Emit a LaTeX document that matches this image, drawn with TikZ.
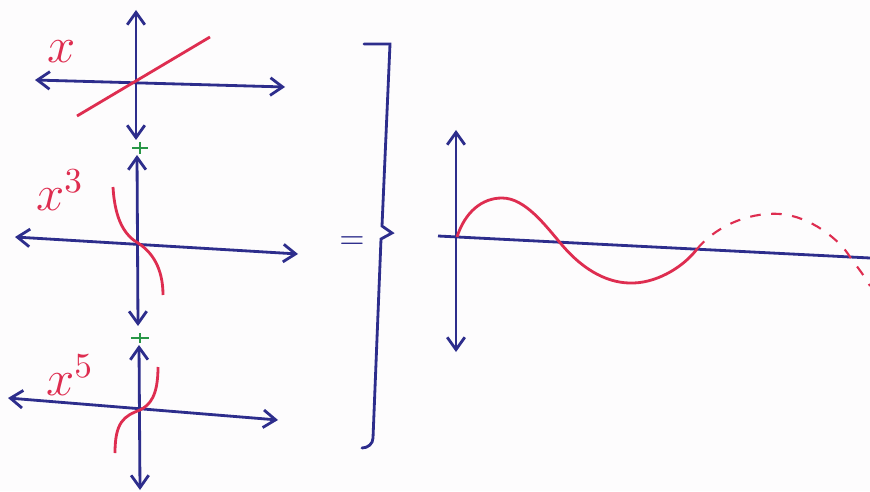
\documentclass[tikz,border=0pt]{standalone}
\usetikzlibrary{arrows.meta}
\definecolor{penblue}{RGB}{45,45,140}
\definecolor{penred}{RGB}{222,45,80}
\definecolor{pengreen}{RGB}{40,150,70}
\definecolor{paper}{RGB}{253,252,253}
\begin{document}
\begin{tikzpicture}[x=0.01cm,y=-0.01cm,
  >={Straight Barb[length=3.5pt,width=5pt]},
  axis/.style={draw=penblue,line width=0.8pt},
  curve/.style={draw=penred,line width=0.8pt},
  tick/.style={draw=pengreen,line width=0.8pt},
  lbl/.style={text=penred,font=\Large}]
  \fill[paper] (0,0) rectangle (870,491);
  \useasboundingbox (0,0) rectangle (870,491);
  % first term
  \draw[axis,<->] (136,10) -- (136,140);
  \draw[axis,<->] (35,80) -- (285,87);
  \draw[curve] (77,116) -- (210,37);
  \node[lbl] (t1) at (62,52) {$x$};
  \draw[tick] (132,148) -- (148,148) (140,142) -- (140,154);
  % second term
  \draw[axis,<->] (137,155) -- (138,326);
  \draw[axis,<->] (15,237) -- (298,254);
  \draw[curve] (113,187) .. controls (115,222) and (126,236) .. (138,243)
    .. controls (152,252) and (163,268) .. (163,295);
  \node[lbl] (t3) at (60,190) {$x^3$};
  \draw[tick] (131,338) -- (149,338) (140,333) -- (140,343);
  % third term
  \draw[axis,<->] (139,345) -- (140,490);
  \draw[axis,<->] (8,398) -- (278,420);
  \draw[curve] (158,367) .. controls (158,396) and (150,405) .. (140,410)
    .. controls (124,416) and (115,422) .. (115,453);
  \node[lbl] (t5) at (70,375) {$x^5$};
  % equals and bracket
  \node[text=penblue,font=\small] (eq) at (352,243) {$=$};
  \draw[axis,line cap=round] (364,44) -- (390,44) -- (382,226) -- (392,233)
    -- (381,239) -- (373,438) to[out=-90,in=0] (362,448);
  % sum
  \draw[axis,<->] (456,130) -- (456,352);
  \draw[axis] (438,236) -- (870,258);
  \draw[curve] (457,237) .. controls (465,212) and (482,198) .. (502,198)
    .. controls (525,198) and (545,225) .. (562,245)
    .. controls (585,272) and (610,284) .. (634,283)
    .. controls (660,282) and (685,265) .. (697,249);
  \draw[curve,line width=0.6pt,dash pattern=on 3pt off 3pt] (697,249)
    .. controls (720,222) and (755,212) .. (780,214)
    .. controls (810,216) and (840,240) .. (850,257)
    .. controls (858,268) and (866,278) .. (870,286);
\end{tikzpicture}
\end{document}
